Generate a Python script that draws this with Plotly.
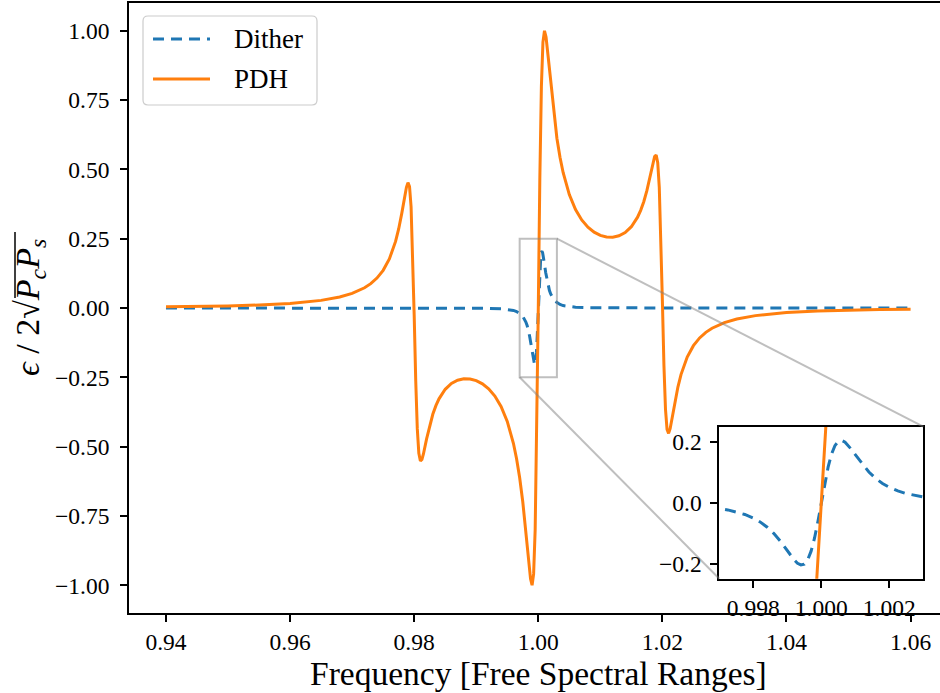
import plotly.graph_objects as go

# ---------------------------------------------------------------------------
# Data: error signals normalised to 2*sqrt(Pc*Ps), frequency in FSR units
# ---------------------------------------------------------------------------
freq_pdh = [
    0.9400, 0.9450, 0.9500, 0.9550, 0.9600, 0.9650, 0.9680, 0.9700, 0.9720, 0.9730,
    0.9740, 0.9750, 0.9760, 0.9770, 0.9775, 0.9780, 0.9785, 0.97875, 0.9790, 0.97925,
    0.9795, 0.97975, 0.9800, 0.98025, 0.9805, 0.98075, 0.9810, 0.98125, 0.9815, 0.9820,
    0.9825, 0.9830, 0.9835, 0.9840, 0.9850, 0.9860, 0.9870, 0.9880, 0.9890, 0.9900,
    0.9910, 0.9920, 0.9930, 0.9940, 0.9950, 0.9960, 0.9965, 0.9970, 0.9975, 0.9980,
    0.9985, 0.99875, 0.9990, 0.99925, 0.9995, 0.99975, 1.0000,
    1.00025, 1.0005, 1.00075, 1.0010, 1.00125, 1.0015, 1.0020, 1.0025, 1.0030, 1.0035,
    1.0040, 1.0050, 1.0060, 1.0070, 1.0080, 1.0090, 1.0100, 1.0110, 1.0120, 1.0130,
    1.0140, 1.0150, 1.0160, 1.0165, 1.0170, 1.0175, 1.0180, 1.0185, 1.01875, 1.0190,
    1.01925, 1.0195, 1.01975, 1.0200, 1.02025, 1.0205, 1.02075, 1.0210, 1.02125, 1.0215,
    1.0220, 1.0225, 1.0230, 1.0240, 1.0250, 1.0260, 1.0270, 1.0280, 1.0300, 1.0320,
    1.0350, 1.0400, 1.0450, 1.0500, 1.0550, 1.0600,
]
pdh = [
    0.0042, 0.0055, 0.0076, 0.0109, 0.0166, 0.0275, 0.0397, 0.0526, 0.0729, 0.0878,
    0.1079, 0.1359, 0.1769, 0.2402, 0.2850, 0.3413, 0.4061, 0.4353, 0.4520, 0.4380,
    0.3653, 0.2074, -0.0249, -0.2631, -0.4351, -0.5238, -0.5518, -0.5463, -0.5255, -0.4722,
    -0.4232, -0.3834, -0.3521, -0.3275, -0.2932, -0.2723, -0.2604, -0.2554, -0.2560, -0.2620,
    -0.2735, -0.2915, -0.3177, -0.3550, -0.4089, -0.4887, -0.5434, -0.6121, -0.6987, -0.8060,
    -0.9259, -0.9769, -1.0000, -0.9589, -0.7985, -0.4695, 0.0000,
    0.4695, 0.7985, 0.9589, 1.0000, 0.9769, 0.9259, 0.8060, 0.6987, 0.6121, 0.5434,
    0.4887, 0.4089, 0.3550, 0.3177, 0.2915, 0.2735, 0.2620, 0.2560, 0.2554, 0.2604,
    0.2723, 0.2932, 0.3275, 0.3521, 0.3834, 0.4232, 0.4722, 0.5255, 0.5463, 0.5518,
    0.5238, 0.4351, 0.2631, 0.0249, -0.2074, -0.3653, -0.4380, -0.4520, -0.4353, -0.4061,
    -0.3413, -0.2850, -0.2402, -0.1769, -0.1359, -0.1079, -0.0878, -0.0729, -0.0526, -0.0397,
    -0.0275, -0.0166, -0.0109, -0.0076, -0.0055, -0.0042,
]

freq_dither = [
    0.9400, 0.9700, 0.9800, 0.9850, 0.9900, 0.9920, 0.9940, 0.9950, 0.9960, 0.9965,
    0.9970, 0.99725, 0.9975, 0.99775, 0.9980, 0.9982, 0.9984, 0.9986, 0.9988, 0.9990,
    0.9991, 0.9992, 0.9993, 0.9994, 0.9995, 0.9996, 0.9997, 0.9998, 0.9999, 1.0000,
    1.0001, 1.0002, 1.0003, 1.0004, 1.0005, 1.0006, 1.0007, 1.0008, 1.0009, 1.0010,
    1.0012, 1.0014, 1.0016, 1.0018, 1.0020, 1.00225, 1.0025, 1.00275, 1.0030, 1.0035,
    1.0040, 1.0050, 1.0060, 1.0080, 1.0100, 1.0150, 1.0200, 1.0300, 1.0600,
]
dither = [
    0.0000, 0.0000, -0.0001, -0.0002, -0.0006, -0.0012, -0.0028, -0.0047, -0.0087, -0.0126,
    -0.0189, -0.0237, -0.0300, -0.0387, -0.0505, -0.0632, -0.0797, -0.1009, -0.1273, -0.1579,
    -0.1735, -0.1878, -0.1991, -0.2048, -0.2020, -0.1877, -0.1594, -0.1168, -0.0619, 0.0000,
    0.0619, 0.1168, 0.1594, 0.1877, 0.2020, 0.2048, 0.1991, 0.1878, 0.1735, 0.1579,
    0.1273, 0.1009, 0.0797, 0.0632, 0.0505, 0.0387, 0.0300, 0.0237, 0.0189, 0.0126,
    0.0087, 0.0047, 0.0028, 0.0012, 0.0006, 0.0002, 0.0001, 0.0000, 0.0000,
]

x_ticks = [0.94, 0.96, 0.98, 1.00, 1.02, 1.04, 1.06]
x_tick_labels = ["0.94", "0.96", "0.98", "1.00", "1.02", "1.04", "1.06"]
y_ticks = [-1.0, -0.75, -0.5, -0.25, 0.0, 0.25, 0.5, 0.75, 1.0]
y_tick_labels = ["\u22121.00", "\u22120.75", "\u22120.50", "\u22120.25", "0.00",
                 "0.25", "0.50", "0.75", "1.00"]
inset_x_ticks = [0.998, 1.000, 1.002]
inset_x_tick_labels = ["0.998", "1.000", "1.002"]
inset_y_ticks = [-0.2, 0.0, 0.2]
inset_y_tick_labels = ["\u22120.2", "0.0", "0.2"]

series_names = ["Dither", "PDH"]

# ---------------------------------------------------------------------------
# Styling / geometry
# ---------------------------------------------------------------------------
BLUE = "#1f77b4"
ORANGE = "#ff7f0e"
ZOOM_GREY = "rgba(128,128,128,0.5)"
FONT = "Liberation Serif"
DASH = "11px,7px"
TICK_SIZE = 23.5

W, H = 940, 693
ML, MR, MT, MB = 129, 0, 3, 80
PW, PH = W - ML - MR, H - MT - MB

main_x_range = [0.93404, 1.06474]
main_y_range = [-1.1, 1.1]
zoom_x_range = [0.997, 1.003]
zoom_y_range = [-0.25, 0.25]


def px_x(px):
    return (px - ML) / PW


def px_y(py):
    return (H - MB - py) / PH


def data_to_paper(v, rng):
    return (v - rng[0]) / (rng[1] - rng[0])


inset_xdom = [px_x(719.3), px_x(923.3)]
inset_ydom = [px_y(578.7), px_y(426.7)]

fig = go.Figure()

# main panel
fig.add_trace(go.Scatter(x=freq_dither, y=dither, mode="lines", name=series_names[0],
                         line=dict(color=BLUE, width=3, dash=DASH), showlegend=False,
                         xaxis="x", yaxis="y"))
fig.add_trace(go.Scatter(x=freq_pdh, y=pdh, mode="lines", name=series_names[1],
                         line=dict(color=ORANGE, width=3), showlegend=False,
                         xaxis="x", yaxis="y"))
# zoomed inset
fig.add_trace(go.Scatter(x=freq_dither, y=dither, mode="lines", name=series_names[0],
                         line=dict(color=BLUE, width=3, dash=DASH), showlegend=False,
                         xaxis="x2", yaxis="y2"))
fig.add_trace(go.Scatter(x=freq_pdh, y=pdh, mode="lines", name=series_names[1],
                         line=dict(color=ORANGE, width=3), showlegend=False,
                         xaxis="x2", yaxis="y2"))

axis_common = dict(showgrid=False, zeroline=False, showline=True, linecolor="black",
                   linewidth=1.8, ticks="outside", ticklen=7, tickwidth=1.5,
                   tickcolor="black", tickfont=dict(family=FONT, size=TICK_SIZE, color="black"))

fig.update_layout(
    width=W, height=H,
    margin=dict(l=ML, r=MR, t=MT, b=MB, pad=0),
    paper_bgcolor="white", plot_bgcolor="white",
    xaxis=dict(domain=[0, 1], range=main_x_range, tickvals=x_ticks, ticktext=x_tick_labels,
               mirror=True, anchor="y", ticklabelstandoff=0, **axis_common),
    yaxis=dict(domain=[0, 1], range=main_y_range, tickvals=y_ticks, ticktext=y_tick_labels,
               mirror=False, anchor="x", ticklabelstandoff=6, **axis_common),
    xaxis2=dict(domain=inset_xdom, range=zoom_x_range, tickvals=inset_x_ticks,
                ticktext=inset_x_tick_labels, mirror=True, anchor="y2",
                ticklabelstandoff=0, **axis_common),
    yaxis2=dict(domain=inset_ydom, range=zoom_y_range, tickvals=inset_y_ticks,
                ticktext=inset_y_tick_labels, mirror=True, anchor="x2",
                ticklabelstandoff=4, **axis_common),
)

shapes = []
# zoom indicator rectangle on the main panel
shapes.append(dict(type="rect", xref="x", yref="y",
                   x0=zoom_x_range[0], x1=zoom_x_range[1],
                   y0=zoom_y_range[0], y1=zoom_y_range[1],
                   line=dict(color=ZOOM_GREY, width=2), layer="above"))
# connectors from the indicator to the inset corners
rx0 = data_to_paper(zoom_x_range[0], main_x_range)
rx1 = data_to_paper(zoom_x_range[1], main_x_range)
ry0 = data_to_paper(zoom_y_range[0], main_y_range)
ry1 = data_to_paper(zoom_y_range[1], main_y_range)
shapes.append(dict(type="line", xref="paper", yref="paper",
                   x0=rx1, y0=ry1, x1=inset_xdom[1], y1=inset_ydom[1],
                   line=dict(color=ZOOM_GREY, width=2), layer="above"))
shapes.append(dict(type="line", xref="paper", yref="paper",
                   x0=rx0, y0=ry0, x1=inset_xdom[0], y1=inset_ydom[0],
                   line=dict(color=ZOOM_GREY, width=2), layer="above"))

# legend frame with rounded corners
lx0, lx1, ly_top, ly_bot, rad = 143, 317, 16, 105, 5
pts = lambda x, y: f"{px_x(x):.5f},{px_y(y):.5f}"
legend_path = (
    f"M {pts(lx0 + rad, ly_top)} L {pts(lx1 - rad, ly_top)} "
    f"Q {pts(lx1, ly_top)} {pts(lx1, ly_top + rad)} "
    f"L {pts(lx1, ly_bot - rad)} Q {pts(lx1, ly_bot)} {pts(lx1 - rad, ly_bot)} "
    f"L {pts(lx0 + rad, ly_bot)} Q {pts(lx0, ly_bot)} {pts(lx0, ly_bot - rad)} "
    f"L {pts(lx0, ly_top + rad)} Q {pts(lx0, ly_top)} {pts(lx0 + rad, ly_top)} Z"
)
shapes.append(dict(type="path", xref="paper", yref="paper", path=legend_path,
                   line=dict(color="#cccccc", width=1.2),
                   fillcolor="rgba(255,255,255,0.8)", layer="above"))
# legend samples
legend_rows = [(39, BLUE, DASH), (79, ORANGE, "solid")]
for row_y, color, dash in legend_rows:
    shapes.append(dict(type="line", xref="paper", yref="paper",
                       x0=px_x(153), x1=px_x(210), y0=px_y(row_y), y1=px_y(row_y),
                       line=dict(color=color, width=3, dash=dash), layer="above"))

# vinculum of the square root in the rotated y-axis title
shapes.append(dict(type="line", xref="paper", yref="paper",
                   x0=px_x(15), x1=px_x(15), y0=px_y(298), y1=px_y(232),
                   line=dict(color="black", width=1.5), layer="above"))
fig.update_layout(shapes=shapes)

annotations = []
for (row_y, _, _), name in zip(legend_rows, series_names):
    annotations.append(dict(text=name, xref="paper", yref="paper", x=px_x(232), y=px_y(row_y),
                            xanchor="left", yanchor="middle", showarrow=False,
                            font=dict(family=FONT, size=27, color="black")))
# axis titles
annotations.append(dict(text="Frequency [Free Spectral Ranges]", xref="paper", yref="paper",
                        x=px_x(538.6), y=px_y(673), xanchor="center", yanchor="middle",
                        showarrow=False, font=dict(family=FONT, size=33.5, color="black")))
annotations.append(dict(
    text="<i>\u03f5</i> / 2\u221a<i>P<sub>c</sub>P<sub>s</sub></i>",
    xref="paper", yref="paper", x=px_x(30), y=0.5, xanchor="center", yanchor="middle",
    textangle=-90, showarrow=False, font=dict(family=FONT, size=34, color="black")))
fig.update_layout(annotations=annotations)

fig.write_html("out.html")
